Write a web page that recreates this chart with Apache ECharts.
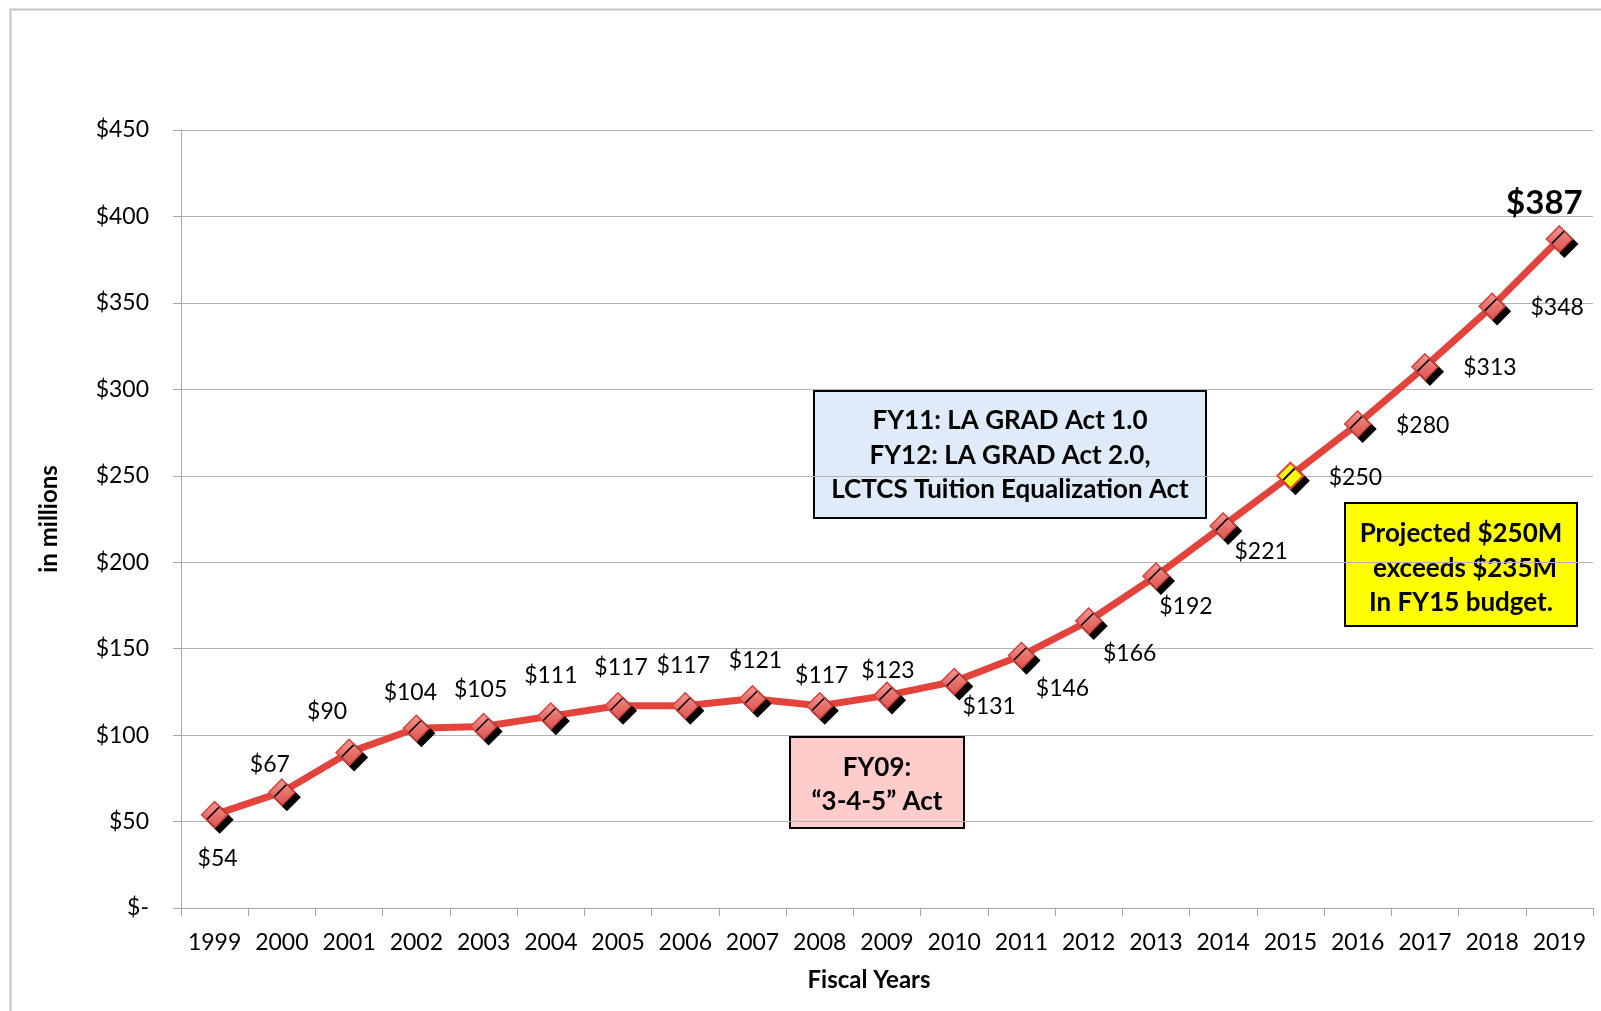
<!DOCTYPE html>
<html>
<head>
<meta charset="utf-8">
<script src="https://cdn.jsdelivr.net/npm/echarts@6/dist/echarts.min.js"></script>
<style>
html,body{margin:0;padding:0;background:#fff;}
#chart{width:1601px;height:1011px;}
</style>
</head>
<body>
<div id="chart"></div>
<script>
var years = ['1999','2000','2001','2002','2003','2004','2005','2006','2007','2008','2009','2010','2011','2012','2013','2014','2015','2016','2017','2018','2019'];
var funding = [54, 67, 90, 104, 105, 111, 117, 117, 121, 117, 123, 131, 146, 166, 192, 221, 250, 280, 313, 348, 387];
var yTicks = [0, 50, 100, 150, 200, 250, 300, 350, 400, 450];

// label placement relative to each marker (layout only)
var labelOffsets = [
  [3, 44], [-12, -28], [-22, -41], [-6, -36], [-3, -37], [0, -41], [3, -38], [-2, -40], [3, -38], [2, -30],
  [1, -25], [35, 25], [41, 33], [41, 33], [30, 31], [38, 26], [65, 2], [65, 2], [65, 1], [65, 1], [-15, -36]
];
var highlightIndex = 16; // FY2015 projected
var boldIndex = 20;

var chart = echarts.init(document.getElementById('chart'));

var markerFill = new echarts.graphic.LinearGradient(0, 0, 0, 1, [
  {offset: 0, color: '#f3a09c'},
  {offset: 0.5, color: '#e8716c'},
  {offset: 1, color: '#dc5550'}
]);

var seriesData = funding.map(function (v, i) {
  var item = {
    value: v,
    label: {
      show: true,
      position: 'inside',
      offset: labelOffsets[i],
      formatter: '$' + v,
      fontFamily: 'Lato',
      fontSize: 23,
      color: '#000'
    }
  };
  if (i === boldIndex) {
    item.label.fontSize = 33;
    item.label.fontWeight = 'bold';
  }
  if (i === highlightIndex) {
    item.itemStyle = {color: '#ffff00', borderColor: '#e2443c', borderWidth: 2};
  }
  return item;
});

var boxFont = 'bold 26px Lato';

var option = {
  animation: false,
  backgroundColor: '#fff',
  grid: {left: 181, right: 8, top: 130, bottom: 103, containLabel: false},
  xAxis: {
    type: 'category',
    data: years,
    boundaryGap: true,
    axisLine: {show: true, lineStyle: {color: '#a6a6a6', width: 1}},
    axisTick: {show: true, alignWithLabel: false, length: 8, lineStyle: {color: '#a6a6a6'}},
    axisLabel: {margin: 23, fontFamily: 'Lato', fontSize: 23, color: '#000', interval: 0},
    splitLine: {show: false}
  },
  yAxis: {
    type: 'value',
    min: 0,
    max: 450,
    interval: 50,
    axisLine: {show: true, lineStyle: {color: '#a6a6a6', width: 1}},
    axisTick: {show: true, length: 8, lineStyle: {color: '#a6a6a6'}},
    axisLabel: {
      margin: 32,
      fontFamily: 'Lato',
      fontSize: 23,
      color: '#000',
      formatter: function (v) { return yTicks.indexOf(v) >= 0 ? (v === 0 ? '$-' : '$' + v) : ''; }
    },
    splitLine: {show: true, lineStyle: {color: '#b3b3b3', width: 1}},
    name: 'in millions',
    nameLocation: 'middle',
    nameGap: 120,
    nameRotate: 90,
    nameTextStyle: {fontFamily: 'Lato', fontSize: 24, fontWeight: 'bold', color: '#000'}
  },
  series: [{
    type: 'line',
    data: seriesData,
    symbol: 'diamond',
    symbolSize: [26, 26],
    lineStyle: {color: '#e2443c', width: 7},
    itemStyle: {
      color: markerFill,
      borderColor: '#d4433d',
      borderWidth: 1.5,
      shadowColor: '#000',
      shadowBlur: 0,
      shadowOffsetX: 5,
      shadowOffsetY: 5
    },
    emphasis: {disabled: true},
    z: 3
  }],
  graphic: [
    {
      type: 'rect', left: 8, top: 7, z: -10, silent: true,
      shape: {width: 1700, height: 1100},
      style: {fill: 'none', stroke: '#c4c4c4', lineWidth: 2}
    },
    {
      type: 'text', x: 869, y: 980, z: 10,
      style: {text: 'Fiscal Years', font: 'bold 24px Lato', fill: '#000', textAlign: 'center', textVerticalAlign: 'middle'}
    },
    {
      type: 'group', z: 20,
      children: [
        {type: 'rect', shape: {x: 814, y: 391, width: 392, height: 127}, style: {fill: '#dfebf8', stroke: '#000', lineWidth: 2}},
        {type: 'text', x: 1010, y: 421, style: {text: 'FY11: LA GRAD Act 1.0', font: boxFont, fill: '#000', textAlign: 'center', textVerticalAlign: 'middle'}},
        {type: 'text', x: 1010, y: 456, style: {text: 'FY12: LA GRAD Act 2.0,', font: boxFont, fill: '#000', textAlign: 'center', textVerticalAlign: 'middle'}},
        {type: 'text', x: 1010, y: 490, style: {text: 'LCTCS Tuition Equalization Act', font: boxFont, fill: '#000', textAlign: 'center', textVerticalAlign: 'middle'}}
      ]
    },
    {
      type: 'group', z: 20,
      children: [
        {type: 'rect', shape: {x: 790, y: 737, width: 174, height: 91}, style: {fill: '#ffcccc', stroke: '#000', lineWidth: 2}},
        {type: 'text', x: 877, y: 768, style: {text: 'FY09:', font: boxFont, fill: '#000', textAlign: 'center', textVerticalAlign: 'middle'}},
        {type: 'text', x: 877, y: 802, style: {text: '\u201C3-4-5\u201D Act', font: boxFont, fill: '#000', textAlign: 'center', textVerticalAlign: 'middle'}}
      ]
    },
    {
      type: 'group', z: 20,
      children: [
        {type: 'rect', shape: {x: 1345, y: 503, width: 232, height: 123}, style: {fill: '#ffff00', stroke: '#000', lineWidth: 2}},
        {type: 'text', x: 1461, y: 534, style: {text: 'Projected $250M', font: boxFont, fill: '#000', textAlign: 'center', textVerticalAlign: 'middle'}},
        {type: 'text', x: 1465, y: 569, style: {text: 'exceeds $235M', font: boxFont, fill: '#000', textAlign: 'center', textVerticalAlign: 'middle'}},
        {type: 'text', x: 1461, y: 603, style: {text: 'In FY15 budget.', font: boxFont, fill: '#000', textAlign: 'center', textVerticalAlign: 'middle'}}
      ]
    }
  ]
};
chart.setOption(option);
</script>
</body>
</html>
